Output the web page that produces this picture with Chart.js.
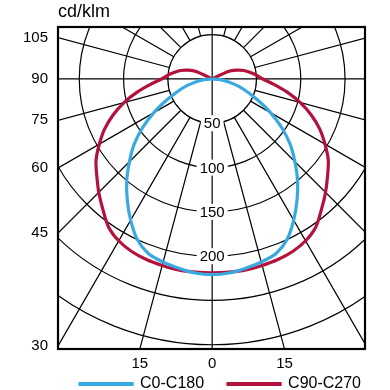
<!DOCTYPE html>
<html>
<head>
<meta charset="utf-8">
<script src="https://cdn.jsdelivr.net/npm/chart.js@4.4.1/dist/chart.umd.min.js"></script>
<style>
html, body { margin: 0; padding: 0; background: #fff; }
</style>
</head>
<body>
<canvas id="polar" width="390" height="390"></canvas>
<script>
// DADOS - gamma angle (deg from nadir) and intensity (cd/klm), one half plane, mirrored
const anglesC0 = [0, 5, 10, 15, 20, 25, 30, 35, 40, 45, 50, 55, 60, 65, 70, 75, 80, 85, 90];
const valuesC0 = [221, 220, 217, 214, 210, 200, 184, 167, 150, 132, 115, 96, 76, 57, 42, 30, 19, 9, 0];

const anglesC90 = [0, 5, 10, 15, 20, 25, 30, 35, 40, 45, 50, 55, 60, 65, 70, 75, 80, 85, 90, 95, 100, 105, 110, 115, 120];
const valuesC90 = [219, 219, 219, 218, 217, 215, 211, 204, 192, 181, 170, 160, 147, 134, 119, 103, 86, 70, 57, 50, 43, 37, 29, 20, 0];

const ringValues = [50, 100, 150, 200, 250, 300, 350];
const ringLabels = [50, 100, 150, 200];
const leftTicks = [105, 90, 75, 60, 45, 30];
const bottomTicks = [-15, 0, 15];

const X_MIN = -174, X_MAX = 172.5, Y_MIN = -305, Y_MAX = 58.7;
const FONT = '"Liberation Sans", Arial, Helvetica, sans-serif';

function polar(deg, v) {
    const a = deg * Math.PI / 180;
    return { x: v * Math.sin(a), y: -v * Math.cos(a) };
}

// left half (negative angles) then right half
function bothHalves(angles, values) {
    const pts = [];
    for (let i = angles.length - 1; i >= 0; i--) pts.push(polar(-angles[i], values[i]));
    for (let i = 1; i < angles.length; i++) pts.push(polar(angles[i], values[i]));
    return pts;
}

// GRADE POLAR
const polarGrid = {
    id: 'polarGrid',
    beforeDatasetsDraw(chart) {
        const { ctx, chartArea: a, scales: { x, y } } = chart;
        const cx = x.getPixelForValue(0);
        const cy = y.getPixelForValue(0);
        const k = (x.getPixelForValue(100) - cx) / 100;

        ctx.save();
        ctx.beginPath();
        ctx.rect(a.left, a.top, a.width, a.height);
        ctx.clip();
        ctx.strokeStyle = '#000';
        ctx.lineWidth = 1.2;
        ringValues.forEach(v => {
            ctx.beginPath();
            ctx.arc(cx, cy, v * k, 0, Math.PI * 2);
            ctx.stroke();
        });
        ctx.beginPath();
        for (let g = 0; g < 360; g += 15) {
            const t = g * Math.PI / 180;
            const r0 = g % 90 === 0 ? 0 : ringValues[0] * k;
            ctx.moveTo(cx + r0 * Math.sin(t), cy + r0 * Math.cos(t));
            ctx.lineTo(cx + 600 * Math.sin(t), cy + 600 * Math.cos(t));
        }
        ctx.stroke();

        ctx.font = '15px ' + FONT;
        ctx.textAlign = 'center';
        ctx.textBaseline = 'middle';
        ringLabels.forEach(v => {
            const py = cy + v * k;
            const w = ctx.measureText(String(v)).width + 6;
            ctx.fillStyle = '#fff';
            ctx.fillRect(cx - w / 2, py - 8, w, 16);
            ctx.fillStyle = '#000';
            ctx.fillText(String(v), cx, py + 1);
        });
        ctx.restore();
    },
    afterDatasetsDraw(chart) {
        const { ctx, chartArea: a } = chart;
        ctx.save();
        ctx.strokeStyle = '#000';
        ctx.lineWidth = 2.2;
        ctx.strokeRect(a.left, a.top, a.width, a.height);
        ctx.restore();
    }
};

const polarChart = new Chart(
    document.getElementById('polar'),
    {
        type: 'scatter',
        data: {
            datasets: [
                {
                    label: 'C0-C180',
                    data: bothHalves(anglesC0, valuesC0),
                    borderColor: '#3aa9e1',
                    backgroundColor: '#3aa9e1',
                    borderWidth: 3.2,
                    showLine: true,
                    pointRadius: 0,
                    tension: 0.3
                },
                {
                    label: 'C90-C270',
                    data: bothHalves(anglesC90, valuesC90),
                    borderColor: '#b2123c',
                    backgroundColor: '#b2123c',
                    borderWidth: 3.2,
                    showLine: true,
                    pointRadius: 0,
                    tension: 0.3
                }
            ]
        },
        options: {
            responsive: false,
            animation: false,
            layout: { padding: { right: 5 } },
            plugins: {
                title: {
                    display: true,
                    text: 'cd/klm',
                    align: 'start',
                    fullSize: false,
                    color: '#000',
                    font: { size: 18, family: FONT, weight: 'normal' },
                    padding: { top: 1, bottom: 4.4 }
                },
                legend: {
                    position: 'bottom',
                    align: 'end',
                    maxHeight: 38,
                    labels: {
                        boxWidth: 52,
                        boxHeight: 1,
                        padding: 24,
                        color: '#000',
                        font: { size: 16, family: FONT }
                    }
                },
                tooltip: { enabled: false }
            },
            scales: {
                x: {
                    type: 'linear',
                    min: X_MIN,
                    max: X_MAX,
                    grid: { display: false, drawTicks: false },
                    border: { display: false },
                    afterBuildTicks: s => {
                        s.ticks = bottomTicks.map(g => ({ value: -Y_MIN * Math.tan(g * Math.PI / 180) }));
                    },
                    // thin axis box so the legend sits right under it; labels may overflow it
                    afterFit: s => {
                        s.height = 3;
                        s._computeLabelArea = () => undefined;
                    },
                    ticks: {
                        autoSkip: false,
                        maxRotation: 0,
                        padding: 6,
                        color: '#000',
                        font: { size: 15, family: FONT },
                        callback: (v, i) => String(Math.abs(bottomTicks[i]))
                    }
                },
                y: {
                    type: 'linear',
                    min: Y_MIN,
                    max: Y_MAX,
                    grid: { display: false, drawTicks: false },
                    border: { display: false },
                    afterBuildTicks: s => {
                        s.ticks = leftTicks.map(g => ({ value: X_MIN / Math.tan(g * Math.PI / 180) }));
                    },
                    afterFit: s => { s.width = 58; },
                    ticks: {
                        autoSkip: false,
                        padding: 10,
                        color: '#000',
                        font: { size: 15, family: FONT },
                        callback: (v, i) => String(leftTicks[i])
                    }
                },
                y2: {
                    position: 'right',
                    grid: { display: false, drawTicks: false },
                    border: { display: false },
                    ticks: { display: false },
                    afterFit: s => { s.width = 20; }
                }
            }
        },
        plugins: [polarGrid]
    }
);
</script>
</body>
</html>
